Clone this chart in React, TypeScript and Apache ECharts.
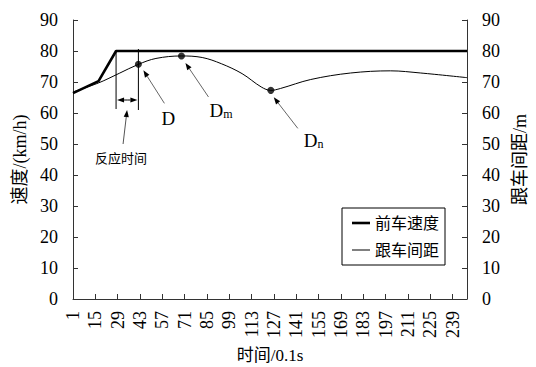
import React, { useEffect, useRef } from "react";
import * as echarts from "echarts";

// Time steps (unit 0.1 s), one category per step
const timeSteps: string[] = Array.from({ length: 248 }, (_, i) => String(i + 1));

// Lead vehicle speed (km/h): key points of the polyline
const speedTimes = ["1", "17", "28", "248"];
const speedValues = [66.4, 70.3, 80, 80];

// Following gap (m): sampled points of the curve
const gapTimes = ["1", "17", "30", "42", "53", "69", "82", "94", "107", "119", "125", "131", "150", "175", "200", "219", "248"];
const gapValues = [66.8, 69.7, 72.8, 75.7, 77.6, 78.4, 77.9, 75.9, 72.7, 68.4, 67.3, 67.9, 70.8, 72.9, 73.6, 72.9, 71.4];

// Marked characteristic gaps D, Dm, Dn
const keyTimes = ["42", "69", "125"];
const keyValues = [75.7, 78.4, 67.3];
const keySubs = ["", "m", "n"];

// Reaction interval: from the speed corner to point D
const reactionStart = "28";
const reactionEnd = "42";

const FONT = "Liberation Serif, Noto Sans CJK SC, serif";
const AXIS_COLOR = "#333";

// Legend glyphs: a horizontal bar inside an 18x14 box (empty sub-paths fix the box height)
const THICK_ICON = "path://M0,-7L0,-7M0,-1.3H18V1.3H0ZM0,7L0,7";
const THIN_ICON = "path://M0,-7L0,-7M0,-0.5H18V0.5H0ZM0,7L0,7";

function arrow(x1: number, y1: number, x2: number, y2: number, stroke: string) {
  const ang = Math.atan2(y2 - y1, x2 - x1);
  const L = 7;
  const W = 2.6;
  const bx = x2 - L * Math.cos(ang);
  const by = y2 - L * Math.sin(ang);
  const px = -Math.sin(ang) * W;
  const py = Math.cos(ang) * W;
  return [
    { type: "line", silent: true, z: 50, shape: { x1, y1, x2: bx, y2: by }, style: { stroke, lineWidth: 1 } },
    {
      type: "polygon",
      silent: true,
      z: 50,
      shape: { points: [[x2, y2], [bx + px, by + py], [bx - px, by - py]] },
      style: { fill: "#000" },
    },
  ];
}

export default function App() {
  const ref = useRef<HTMLDivElement>(null);

  useEffect(() => {
    if (!ref.current) return;
    const chart = echarts.init(ref.current, undefined, { renderer: "svg" });

    const yAxisBase = {
      type: "value" as const,
      min: 0,
      max: 90,
      interval: 10,
      nameLocation: "middle" as const,
      nameRotate: 90,
      nameTextStyle: { fontFamily: FONT, fontSize: 18, color: "#000" },
      axisLine: { show: true, lineStyle: { color: AXIS_COLOR, width: 1 } },
      axisTick: { show: true, inside: true, length: 5, lineStyle: { color: AXIS_COLOR } },
      splitLine: { show: false },
      axisLabel: { fontFamily: FONT, fontSize: 18, color: "#000", margin: 15 },
    };

    chart.setOption({
      animation: false,
      backgroundColor: "#fff",
      grid: { left: 73, right: 69, top: 20, bottom: 68, containLabel: false, outerBoundsMode: "none" },
      legend: {
        orient: "vertical",
        left: 342,
        top: 208,
        data: [
          { name: "前车速度", icon: THICK_ICON, itemStyle: { color: "#000" } },
          { name: "跟车间距", icon: THIN_ICON, itemStyle: { color: "#000" } },
        ],
        borderColor: "#000",
        borderWidth: 1,
        borderRadius: 0,
        padding: [7, 6, 7, 10],
        itemWidth: 18,
        itemHeight: 14,
        itemGap: 11,
        textStyle: { fontFamily: FONT, fontSize: 16, color: "#000" },
      },
      xAxis: {
        type: "category",
        data: timeSteps,
        boundaryGap: false,
        name: "时间/0.1s",
        nameLocation: "middle",
        nameGap: 56,
        nameTextStyle: { fontFamily: FONT, fontSize: 17, lineHeight: 17, color: "#000", verticalAlign: "middle" },
        axisLine: { lineStyle: { color: AXIS_COLOR, width: 1 } },
        axisTick: { show: true, inside: true, length: 5, interval: 13, lineStyle: { color: AXIS_COLOR } },
        axisLabel: { interval: 13, rotate: 90, fontFamily: FONT, fontSize: 18, color: "#000", margin: 12 },
        splitLine: { show: false },
      },
      yAxis: [
        { ...yAxisBase, position: "left", name: "速度/(km/h)", nameGap: 43 },
        { ...yAxisBase, position: "right", name: "跟车间距/m", nameGap: 44 },
      ],
      series: [
        {
          name: "前车速度",
          type: "line",
          data: speedTimes.map((t, i) => [t, speedValues[i]]),
          symbol: "none",
          lineStyle: { color: "#000", width: 2.6 },
          itemStyle: { color: "#000" },
          z: 3,
        },
        {
          name: "跟车间距",
          type: "line",
          yAxisIndex: 1,
          data: gapTimes.map((t, i) => [t, gapValues[i]]),
          smooth: 0.35,
          symbol: "none",
          lineStyle: { color: "#000", width: 1 },
          itemStyle: { color: "#000" },
          z: 2,
        },
        {
          name: "特征点",
          type: "scatter",
          yAxisIndex: 1,
          data: keyTimes.map((t, i) => [t, keyValues[i]]),
          symbol: "circle",
          symbolSize: 7,
          itemStyle: { color: "#000" },
          z: 4,
        },
      ],
    });

    // Annotations anchored on the data points
    const toPx = (t: string, v: number) =>
      chart.convertToPixel({ xAxisIndex: 0, yAxisIndex: 1 }, [Number(t) - 1, v]) as number[];

    const elements: any[] = [];
    const labelOffsets = [
      { tip: [5, 6], tail: [26, 39], label: [23, 54] },
      { tip: [4, 7], tail: [27, 41], label: [28, 54] },
      { tip: [3, 7], tail: [27, 38], label: [33, 50] },
    ];
    keyTimes.forEach((t, i) => {
      const [px, py] = toPx(t, keyValues[i]);
      const o = labelOffsets[i];
      elements.push(...arrow(px + o.tail[0], py + o.tail[1], px + o.tip[0], py + o.tip[1], "#666"));
      elements.push({
        type: "text",
        silent: true,
        z: 50,
        x: px + o.label[0],
        y: py + o.label[1],
        style: {
          text: keySubs[i] ? `{a|D}{b|${keySubs[i]}}` : "{a|D}",
          rich: {
            a: { fontFamily: FONT, fontSize: 19, color: "#000", verticalAlign: "bottom", lineHeight: 20 },
            b: { fontFamily: FONT, fontSize: 12, color: "#000", verticalAlign: "bottom", lineHeight: 14 },
          },
          verticalAlign: "middle",
          align: "left",
        },
      });
    });

    // Reaction time bracket
    const speedTop = speedValues[speedTimes.indexOf(reactionStart)];
    const [ax, ay] = toPx(reactionStart, speedTop);
    const [bx] = toPx(reactionEnd, keyValues[0]);
    elements.push({ type: "line", silent: true, z: 40, shape: { x1: ax, y1: ay, x2: ax, y2: ay + 58 }, style: { stroke: "#000", lineWidth: 1 } });
    elements.push({ type: "line", silent: true, z: 40, shape: { x1: bx, y1: ay - 2, x2: bx, y2: ay + 59 }, style: { stroke: "#000", lineWidth: 1 } });
    const midX = (ax + bx) / 2;
    elements.push(...arrow(midX, ay + 49, ax + 1, ay + 49, "#000"));
    elements.push(...arrow(midX, ay + 49, bx - 1, ay + 49, "#000"));
    elements.push(...arrow(ax + 7, ay + 93, ax + 11, ay + 59, "#555"));
    elements.push({
      type: "text",
      silent: true,
      z: 50,
      x: ax + 5,
      y: ay + 107,
      style: { text: "反应时间", fontFamily: FONT, fontSize: 13, fill: "#000", align: "center", verticalAlign: "middle" },
    });

    chart.setOption({ graphic: { elements } });

    return () => chart.dispose();
  }, []);

  return <div ref={ref} style={{ position: "fixed", left: 0, top: 0, width: 536, height: 367 }} />;
}
